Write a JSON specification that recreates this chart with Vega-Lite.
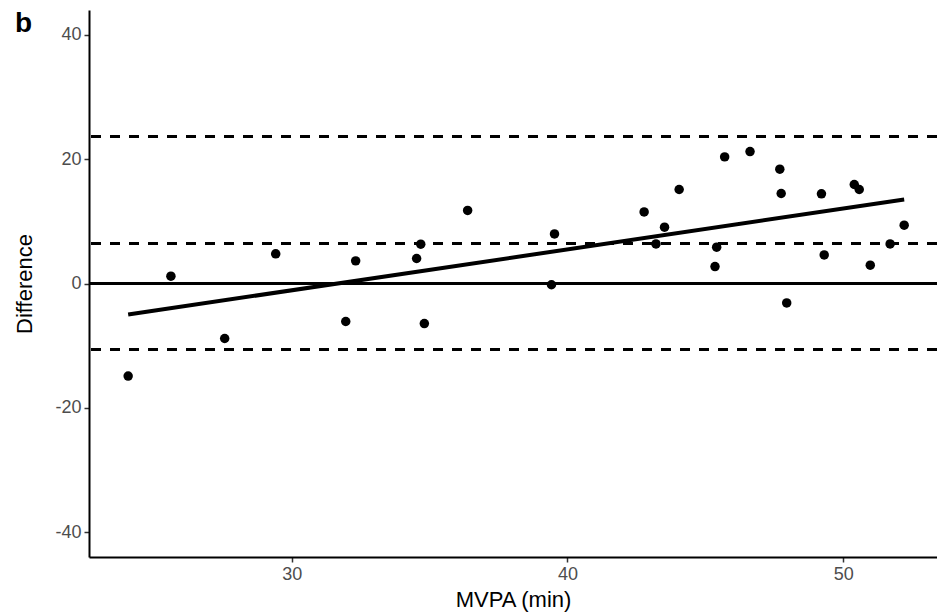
{
  "$schema": "https://vega.github.io/schema/vega-lite/v6.json",
  "autosize": {"type": "none"},
  "width": 848,
  "height": 547,
  "padding": {"left": 89, "top": 10, "right": 0, "bottom": 59},
  "background": "white",
  "config": {
    "view": {"stroke": null},
    "font": "Liberation Sans",
    "axis": {
      "grid": false,
      "domainColor": "black",
      "domainWidth": 2,
      "tickColor": "#333333",
      "tickWidth": 1.5,
      "tickSize": 5,
      "labelFont": "Liberation Sans",
      "labelFontSize": 18,
      "labelColor": "#4d4d4d",
      "labelPadding": 3,
      "titleFont": "Liberation Sans",
      "titleFontSize": 22,
      "titleFontWeight": "normal",
      "titleColor": "black"
    }
  },
  "title": {
    "text": "b",
    "anchor": "start",
    "frame": "group",
    "orient": "none",
    "baseline": "alphabetic",
    "dx": -74,
    "dy": 22,
    "fontSize": 28,
    "fontWeight": "bold",
    "font": "Liberation Sans",
    "color": "black"
  },
  "data": {
    "values": [
      {"mvpa": 24.07, "diff": -14.9},
      {"mvpa": 25.62, "diff": 1.17},
      {"mvpa": 27.57, "diff": -8.85},
      {"mvpa": 29.42, "diff": 4.77},
      {"mvpa": 31.96, "diff": -6.11},
      {"mvpa": 32.32, "diff": 3.64},
      {"mvpa": 34.53, "diff": 4.02},
      {"mvpa": 34.68, "diff": 6.32},
      {"mvpa": 34.81, "diff": -6.44},
      {"mvpa": 36.38, "diff": 11.75},
      {"mvpa": 39.42, "diff": -0.2},
      {"mvpa": 39.53, "diff": 7.98},
      {"mvpa": 42.78, "diff": 11.52},
      {"mvpa": 43.52, "diff": 9.06},
      {"mvpa": 43.21, "diff": 6.37},
      {"mvpa": 44.05, "diff": 15.12},
      {"mvpa": 45.35, "diff": 2.73},
      {"mvpa": 45.41, "diff": 5.84},
      {"mvpa": 45.70, "diff": 20.37},
      {"mvpa": 46.62, "diff": 21.23},
      {"mvpa": 47.70, "diff": 18.39},
      {"mvpa": 47.75, "diff": 14.48},
      {"mvpa": 47.95, "diff": -3.12},
      {"mvpa": 49.21, "diff": 14.42},
      {"mvpa": 49.31, "diff": 4.6},
      {"mvpa": 50.40, "diff": 15.93},
      {"mvpa": 50.58, "diff": 15.12},
      {"mvpa": 50.98, "diff": 2.94},
      {"mvpa": 51.70, "diff": 6.37},
      {"mvpa": 52.21, "diff": 9.38}
    ]
  },
  "layer": [
    {
      "mark": {"type": "rule", "color": "black", "strokeWidth": 1.6},
      "encoding": {"y": {"datum": 0, "type": "quantitative"}}
    },
    {
      "mark": {"type": "rule", "color": "black", "strokeWidth": 2.2, "strokeDash": [9.5, 9.5]},
      "encoding": {"y": {"datum": 23.59, "type": "quantitative"}}
    },
    {
      "mark": {"type": "rule", "color": "black", "strokeWidth": 2.2, "strokeDash": [9.5, 9.5]},
      "encoding": {"y": {"datum": 6.46, "type": "quantitative"}}
    },
    {
      "mark": {"type": "rule", "color": "black", "strokeWidth": 2.2, "strokeDash": [9.5, 9.5]},
      "encoding": {"y": {"datum": -10.66, "type": "quantitative"}}
    },
    {
      "mark": {"type": "circle", "color": "black", "opacity": 1, "size": 90},
      "encoding": {
        "x": {
          "field": "mvpa",
          "type": "quantitative",
          "title": "MVPA (min)",
          "scale": {"domain": [22.65, 53.4], "nice": false, "zero": false},
          "axis": {"values": [30, 40, 50], "titlePadding": 6}
        },
        "y": {
          "field": "diff",
          "type": "quantitative",
          "title": "Difference",
          "scale": {"domain": [-44, 44], "nice": false},
          "axis": {
            "values": [-40, -20, 0, 20, 40],
            "titlePadding": 18,
            "labelExpr": "datum.value < 0 ? '-' + abs(datum.value) : '' + datum.value"
          }
        }
      }
    },
    {
      "transform": [{"regression": "diff", "on": "mvpa"}],
      "mark": {"type": "line", "color": "black", "strokeWidth": 4},
      "encoding": {
        "x": {"field": "mvpa", "type": "quantitative"},
        "y": {"field": "diff", "type": "quantitative"}
      }
    }
  ]
}
